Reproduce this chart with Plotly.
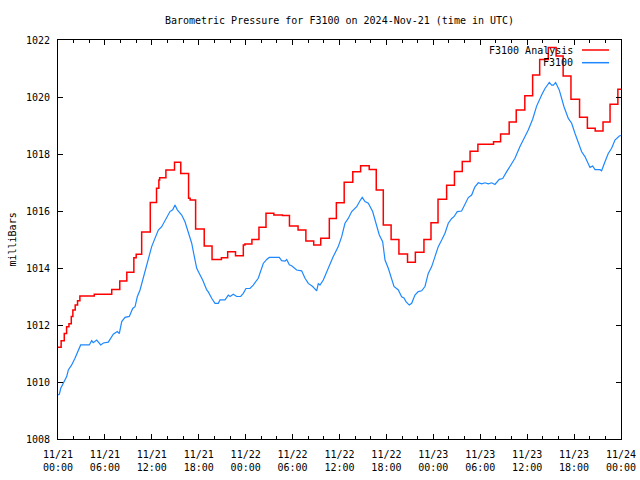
import pandas as pd
import plotly.graph_objects as go

# ---- data ----
start = "2024-11-21 00:00"
title_text = "Barometric Pressure for F3100 on 2024-Nov-21 (time in UTC)"
y_label = "milliBars"
series_names = ["F3100 Analysis", "F3100"]

# F3100 Analysis (step series): hours since start, value
analysis_hours = [0, 0.4, 0.8, 1.1, 1.4, 1.7, 1.9, 2.2, 2.5, 2.8, 4.64, 6.87, 7.9, 8.8, 9.7, 10.0,
                  10.7, 11.8, 12.6, 12.9, 13.0, 13.8, 14.9, 15.7, 16.7, 16.9, 17.6, 18.7, 19.7,
                  20.9, 21.7, 22.7, 23.7, 23.9, 24.8, 25.7, 26.6, 27.6, 28.7, 29.6, 30.7, 31.7,
                  32.7, 33.6, 34.7, 35.6, 36.6, 37.7, 38.7, 39.8, 40.7, 41.6, 42.6, 43.6, 44.7,
                  45.7, 46.8, 47.7, 48.6, 49.7, 50.7, 51.7, 52.7, 53.7, 55.7, 56.6, 57.7, 58.6,
                  59.7, 60.7, 61.6, 62.7, 63.7, 64.6, 65.6, 66.7, 67.7, 68.7, 69.7, 70.6, 71.6, 72.0]
analysis_values = [1011.22, 1011.45, 1011.7, 1011.94, 1012.04, 1012.3, 1012.53, 1012.7, 1012.85,
                   1013.02, 1013.08, 1013.25, 1013.54, 1013.85, 1014.36, 1014.48, 1015.26, 1016.3,
                   1016.8, 1017.09, 1017.17, 1017.44, 1017.71, 1017.32, 1016.45, 1016.39, 1015.37,
                   1014.77, 1014.3, 1014.36, 1014.57, 1014.43, 1014.81, 1014.84, 1015.0, 1015.43,
                   1015.92, 1015.86, 1015.84, 1015.47, 1015.33, 1014.95, 1014.81, 1015.04, 1015.74,
                   1016.29, 1017.01, 1017.38, 1017.59, 1017.46, 1016.74, 1015.51, 1015.0, 1014.49,
                   1014.2, 1014.55, 1015.0, 1015.59, 1016.41, 1016.9, 1017.39, 1017.74, 1018.1,
                   1018.34, 1018.43, 1018.7, 1019.12, 1019.54, 1020.04, 1020.77, 1021.32, 1021.74,
                   1021.44, 1020.74, 1019.92, 1019.29, 1018.9, 1018.81, 1019.12, 1019.75, 1020.27,
                   1020.3]

# F3100 observed
obs_hours = [0, 0.17, 0.35, 0.68, 1.11, 1.32, 1.75, 2.17, 2.6, 2.9, 4.0, 4.31, 4.5, 4.95, 5.46,
             5.8, 6.43, 7.07, 7.58, 7.84, 8.15, 8.57, 9.12, 9.55, 9.85, 10.14, 10.49, 10.91,
             11.25, 11.55, 11.98, 12.4, 12.83, 13.26, 13.81, 14.32, 14.67, 14.96, 15.26, 15.82,
             16.24, 16.66, 17.1, 17.39, 17.74, 18.07, 18.5, 19.02, 19.22, 19.65, 20.08, 20.5,
             20.72, 21.36, 21.78, 22.0, 22.42, 22.85, 23.36, 23.7, 24.04, 24.55, 24.97, 25.61,
             25.92, 26.25, 26.69, 27.02, 28.3, 28.6, 29.03, 29.25, 29.58, 29.88, 30.52, 31.16,
             31.59, 32.01, 32.57, 33.08, 33.29, 33.5, 33.93, 34.36, 34.78, 35.2, 35.84, 36.28,
             36.7, 37.12, 37.56, 38.2, 38.62, 38.91, 39.26, 39.68, 40.24, 40.66, 41.09, 41.52,
             41.82, 42.24, 42.67, 42.97, 43.52, 43.95, 44.25, 44.5, 44.92, 45.23, 45.65, 46.07,
             46.51, 46.93, 47.35, 47.79, 48.21, 48.63, 49.07, 49.49, 49.91, 50.35, 50.64, 51.06,
             51.62, 52.05, 52.47, 52.9, 53.32, 53.75, 54.18, 54.6, 55.03, 55.46, 55.88, 56.43,
             56.87, 57.38, 57.8, 58.44, 59.08, 59.5, 60.14, 60.7, 61.21, 61.85, 62.28, 62.83,
             63.13, 63.36, 63.64, 64.1, 64.71, 65.26, 65.69, 66.11, 66.53, 66.97, 67.39, 68.03,
             68.38, 68.67, 69.31, 69.52, 69.95, 70.37, 70.8, 71.23, 71.78, 72.0]
obs_values = [1009.55, 1009.57, 1009.78, 1009.95, 1010.19, 1010.42, 1010.6, 1010.83, 1011.12,
              1011.3, 1011.3, 1011.45, 1011.38, 1011.47, 1011.3, 1011.37, 1011.4, 1011.68,
              1011.77, 1011.7, 1012.12, 1012.27, 1012.3, 1012.58, 1012.64, 1012.99, 1013.23,
              1013.64, 1013.99, 1014.34, 1014.75, 1015.04, 1015.33, 1015.45, 1015.74, 1015.98,
              1016.04, 1016.21, 1016.04, 1015.86, 1015.62, 1015.27, 1014.87, 1014.46, 1013.99,
              1013.81, 1013.58, 1013.23, 1013.16, 1012.94, 1012.76, 1012.76, 1012.88, 1012.88,
              1013.05, 1013.0, 1013.08, 1013.0, 1013.0, 1013.11, 1013.28, 1013.28, 1013.4,
              1013.64, 1013.87, 1014.16, 1014.3, 1014.37, 1014.37, 1014.26, 1014.24, 1014.3,
              1014.11, 1014.08, 1013.93, 1013.9, 1013.64, 1013.46, 1013.35, 1013.2, 1013.46,
              1013.4, 1013.58, 1013.87, 1014.11, 1014.4, 1014.75, 1015.1, 1015.57, 1015.74,
              1015.98, 1016.15, 1016.36, 1016.48, 1016.33, 1016.27, 1015.98, 1015.57, 1015.16,
              1014.92, 1014.28, 1013.99, 1013.64, 1013.35, 1013.23, 1012.99, 1012.95, 1012.82,
              1012.7, 1012.76, 1013.05, 1013.17, 1013.2, 1013.35, 1013.81, 1014.05, 1014.4,
              1014.75, 1014.98, 1015.22, 1015.57, 1015.74, 1015.8, 1015.98, 1016.0, 1016.25,
              1016.47, 1016.56, 1016.85, 1016.99, 1016.95, 1016.99, 1016.95, 1016.99, 1016.93,
              1017.11, 1017.14, 1017.38, 1017.58, 1017.85, 1018.26, 1018.47, 1018.84, 1019.22,
              1019.68, 1020.07, 1020.3, 1020.51, 1020.42, 1020.42, 1020.51, 1020.25, 1019.66,
              1019.25, 1019.08, 1018.73, 1018.43, 1018.08, 1017.91, 1017.53, 1017.58, 1017.45,
              1017.45, 1017.41, 1017.73, 1018.02, 1018.2, 1018.49, 1018.63, 1018.65]

y_range = [1008, 1022]
span_hours = 72

# ---- figure ----
base = pd.Timestamp(start)
ax = base + pd.to_timedelta(analysis_hours, unit="h")
ox = base + pd.to_timedelta(obs_hours, unit="h")

RED = "#ff0000"
BLUE = "#1e88ff"
FONT = "DejaVu Sans Mono"

L, R, T, B = 58, 19, 40, 41
PW, PH = 640 - L - R, 480 - T - B

fig = go.Figure()
fig.add_trace(go.Scatter(x=ax, y=analysis_values, mode="lines", line_shape="hv",
                         line=dict(color=RED, width=1.5), name=series_names[0]))
fig.add_trace(go.Scatter(x=ox, y=obs_values, mode="lines",
                         line=dict(color=BLUE, width=1.2), name=series_names[1]))

fig.update_layout(
    width=640, height=480,
    margin=dict(l=L, r=R, t=T, b=B, pad=0, autoexpand=False),
    paper_bgcolor="white", plot_bgcolor="white",
    showlegend=False,
    font=dict(family=FONT, size=10, color="black"),
    title=dict(text=title_text, x=(L + PW / 2) / 640, xanchor="center",
               y=1 - 20 / 480, yanchor="middle", font=dict(family=FONT, size=10)),
)
fig.update_xaxes(
    type="date", automargin=False,
    range=[base, base + pd.Timedelta(hours=span_hours)],
    tick0=base, dtick=6 * 3600 * 1000, tickformat="%m/%d<br>%H:%M",
    ticks="inside", ticklen=5, tickcolor="black", ticklabelstandoff=6,
    minor=dict(dtick=2 * 3600 * 1000, ticks="inside", ticklen=3, tickcolor="black"),
    showline=True, linecolor="black", linewidth=1, mirror="ticks",
    showgrid=False, zeroline=False,
)
fig.update_yaxes(
    automargin=False,
    range=y_range, dtick=2,
    ticks="inside", ticklen=5, tickcolor="black", ticklabelstandoff=5,
    showline=True, linecolor="black", linewidth=1, mirror="ticks",
    showgrid=False, zeroline=False,
)

# y-axis label
fig.add_annotation(text=y_label, x=-(L - 12) / PW, y=0.5, xref="paper", yref="paper",
                   textangle=-90, xanchor="center", yanchor="middle", showarrow=False,
                   font=dict(family=FONT, size=10, color="black"))

# gnuplot-style key (text right-aligned, line sample on the right)
key_rows = [(series_names[0], RED, 50.0), (series_names[1], BLUE, 62.7)]
for name, color, ypx in key_rows:
    yp = (480 - B - ypx) / PH
    fig.add_annotation(text=name, x=(575 - L) / PW, y=yp, xref="paper", yref="paper",
                       xanchor="right", yanchor="middle", showarrow=False,
                       font=dict(family=FONT, size=10, color="black"))
    fig.add_shape(type="line", xref="paper", yref="paper",
                  x0=(582 - L) / PW, x1=(609 - L) / PW, y0=yp, y1=yp,
                  line=dict(color=color, width=1.5))

fig.write_html("out.html", config={"displayModeBar": False},
               post_script="document.body.style.margin='0';")
